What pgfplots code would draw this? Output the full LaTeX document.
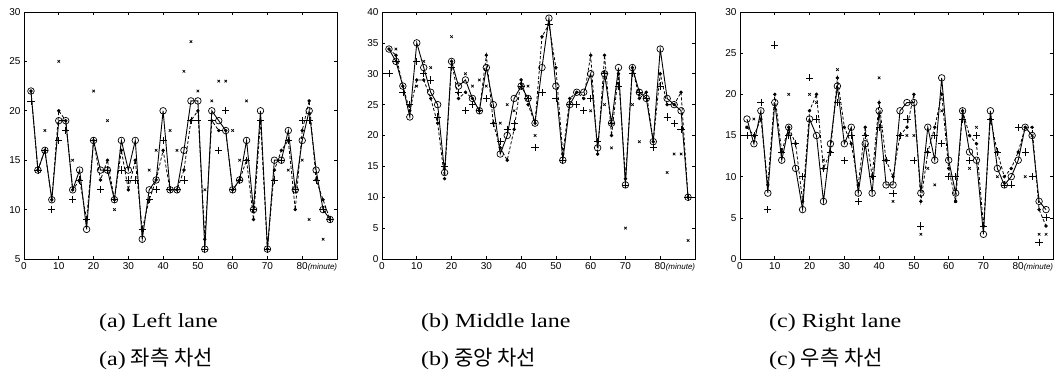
\documentclass[border=0pt]{standalone}
\usepackage{fontspec}
\setmainfont{Liberation Serif}
\newfontfamily\cjk{Noto Sans CJK KR}
\newfontfamily\tickfont{Liberation Sans}
\usepackage{pgfplots}
\pgfplotsset{compat=1.18}
\usepackage{pgfplotstable}

% x  a(solid, circles)  b(dashed, dots)  c(plus)
\pgfplotstableread{
x a b c
2 22 22 21
4 14 14 14
6 16 16 16
8 11 11 10
10 19 20 17
12 19 19 18
14 12 12 11
16 14 13 13
18 8 9 9
20 17 17 17
22 14 13 12
24 14 15 14
26 11 11 11
28 17 16 14
30 14 12 13
32 17 15 13
34 7 8 8
36 12 11 11
38 13 13 12
40 20 16 17
42 12 12 12
44 12 12 12
46 16 14 13
48 21 19 19
50 21 20 19
52 6 7 6
54 20 19 19
56 19 18 16
58 18 18 20
60 12 12 12
62 13 13 13
64 17 15 15
66 10 9 10
68 20 19 19
70 6 6 6
72 15 14 13
74 15 16 15
76 18 17 17
78 12 10 12
80 17 18 19
82 20 21 19
84 14 13 13
86 10 11 10
88 9 9 9
}\leftlane
\pgfplotstableread{
x d
6 18
10 25
14 15
20 22
24 19
26 10
36 14
38 16
42 18
44 16
46 24
48 27
50 22
52 12
54 21
56 23
58 23
60 18
62 15
64 21
76 14
80 15
82 9
86 7
}\leftx

\pgfplotstableread{
x a b c
2 34 34 30
4 32 33 32
6 28 28 27
8 23 24 25
10 35 29 32
12 31 29 30
14 27 26 29
16 25 22 23
18 14 13 15
20 32 32 31
22 28 26 27
24 29 27 24
26 26 26 25
28 24 24 24
30 31 33 26
32 25 22 22
34 17 18 19
36 20 16 21
38 26 21 22
40 28 29 28
42 26 25 26
44 22 22 18
46 31 36 27
48 39 38 38
50 28 31 26
52 16 17 16
54 25 26 25
56 27 27 25
58 27 26 24
60 30 33 26
62 18 17 19
64 30 33 30
66 22 20 22
68 31 30 28
70 12 13 12
72 31 31 30
74 27 26 27
76 26 27 26
78 19 19 18
80 34 30 28
82 26 25 23
84 25 25 22
86 24 27 21
88 10 10 10
}\midlane
\pgfplotstableread{
x d
4 34
10 28
12 32
14 31
20 36
24 30
26 28
28 29
30 28
34 22
36 25
38 24
42 28
44 20
60 24
64 25
66 18
70 5
72 25
74 19
82 14
84 17
86 17
88 3
}\midx

\pgfplotstableread{
x a b c
2 17 16 15
4 14 15 15
6 18 17 19
8 8 9 6
10 19 20 26
12 12 13 13
14 16 16 15
16 11 14 14
18 6 7 10
20 17 18 22
22 15 20 17
24 7 11 11
26 14 13 13
28 21 22 19
30 14 16 12
32 16 14 15
34 8 9 7
36 14 16 15
38 8 10 10
40 18 19 16
42 9 12 12
44 9 10 8
46 18 15 15
48 19 16 17
50 19 20 12
52 8 7 4
54 16 13 13
56 12 16 15
58 22 20 14
60 12 11 10
62 8 7 10
64 18 18 17
66 13 15 12
68 12 14 15
70 3 4 4
72 18 17 17
74 11 13 13
76 9 10 9
78 10 11 9
80 12 13 16
82 16 16 13
84 15 16 10
86 7 6 2
88 6 4 5
}\rightlane
\pgfplotstableread{
x d
2 16
4 17
14 20
20 20
22 19
24 12
28 23
40 22
42 12
44 7
48 15
50 15
52 3
54 11
56 9
58 18
62 7
66 11
68 16
74 10
82 10
84 15
86 3
88 3
}\rightx

\pgfplotsset{
  lanestyle/.style={
    scale only axis, width=313pt, height=247pt,
    anchor=south west,
    xmin=0, xmax=90,
    xtick={0,10,...,80},
    xticklabels={0,10,20,30,40,50,60,70,{80\rlap{\fontsize{8}{8}\selectfont\itshape(minute)}}},
    tick align=inside,
    major tick length=3pt,
    tick style={black, line width=0.6pt},
    axis line style={black, line width=0.8pt},
    ticklabel style={font=\tickfont\fontsize{10}{10}\selectfont},
    /pgf/number format/assume math mode=true,
    clip=false,
  },
  solidser/.style={black, line width=0.9pt, mark=o, mark size=3.3pt, mark options={solid, line width=0.7pt}},
  dashser/.style={black, line width=0.8pt, dash pattern=on 3pt off 2pt, mark=*, mark size=1.3pt, mark options={solid}},
  plusser/.style={black, only marks, mark=+, mark size=3.6pt, mark options={line width=0.7pt}},
  crossser/.style={black, only marks, mark=x, mark size=1.8pt, mark options={line width=0.7pt}},
}

\begin{document}
\begin{tikzpicture}
\useasboundingbox (0pt,0pt) rectangle (1057pt,379pt);

\begin{axis}[lanestyle, at={(24pt,120pt)}, ymin=5, ymax=30, ytick={5,10,...,30}]
\addplot[dashser] table[x=x,y=b] {\leftlane};
\addplot[solidser] table[x=x,y=a] {\leftlane};
\addplot[plusser] table[x=x,y=c] {\leftlane};
\addplot[crossser] table[x=x,y=d] {\leftx};
\end{axis}

\begin{axis}[lanestyle, at={(382pt,120pt)}, ymin=0, ymax=40, ytick={0,5,...,40}]
\addplot[dashser] table[x=x,y=b] {\midlane};
\addplot[solidser] table[x=x,y=a] {\midlane};
\addplot[plusser] table[x=x,y=c] {\midlane};
\addplot[crossser] table[x=x,y=d] {\midx};
\end{axis}

\begin{axis}[lanestyle, at={(740pt,120pt)}, ymin=0, ymax=30, ytick={0,5,...,30}]
\addplot[dashser] table[x=x,y=b] {\rightlane};
\addplot[solidser] table[x=x,y=a] {\rightlane};
\addplot[plusser] table[x=x,y=c] {\rightlane};
\addplot[crossser] table[x=x,y=d] {\rightx};
\end{axis}

\begin{scope}[every node/.style={inner sep=0pt, anchor=base west}]
\node[font=\fontsize{20}{21}\selectfont] at (99pt,51pt) {\scalebox{1.2}[1]{(a) Left lane}};
\node[font=\fontsize{20}{21}\selectfont] at (421pt,51pt) {\scalebox{1.2}[1]{(b) Middle lane}};
\node[font=\fontsize{20}{21}\selectfont] at (769pt,51pt) {\scalebox{1.2}[1]{(c) Right lane}};
\node[font=\fontsize{20}{21}\selectfont] at (99pt,13pt) {\scalebox{1.2}[1]{(a)} {\cjk\fontsize{21}{22}\selectfont 좌측 차선}};
\node[font=\fontsize{20}{21}\selectfont] at (421pt,13pt) {\scalebox{1.2}[1]{(b)} {\cjk\fontsize{21}{22}\selectfont 중앙 차선}};
\node[font=\fontsize{20}{21}\selectfont] at (769pt,13pt) {\scalebox{1.2}[1]{(c)} {\cjk\fontsize{21}{22}\selectfont 우측 차선}};
\end{scope}
\end{tikzpicture}
\end{document}
